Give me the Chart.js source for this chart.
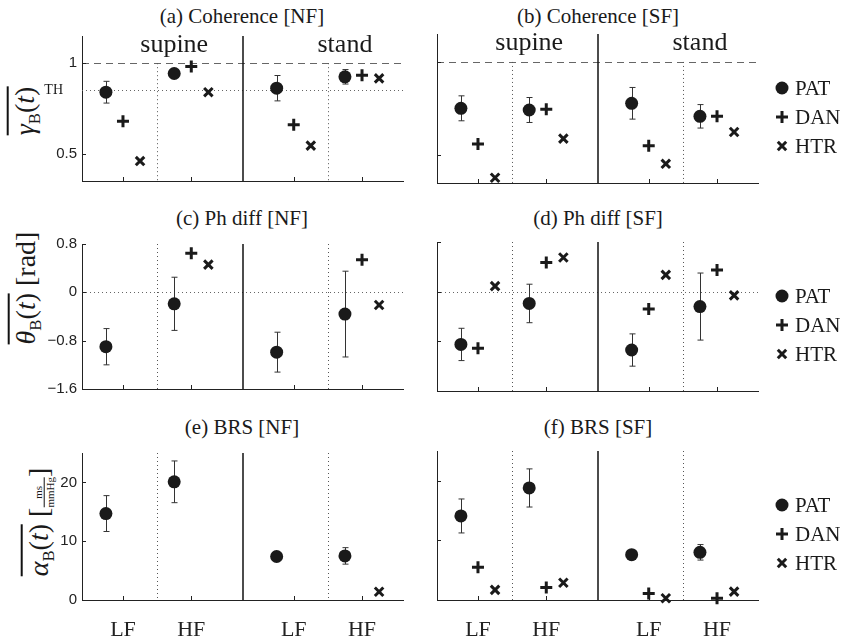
<!DOCTYPE html>
<html>
<head>
<meta charset="utf-8">
<script src="https://cdn.jsdelivr.net/npm/chart.js@4.4.1/dist/chart.umd.min.js"></script>
<style>
  body { margin: 0; background: #fff; width: 843px; height: 642px; position: relative; overflow: hidden; font-family: "Liberation Serif", "DejaVu Serif", serif; color: #1a1a1a; }
  canvas { position: absolute; }
  .title { position: absolute; font-size: 21px; line-height: 24px; transform: translateX(-50%); white-space: nowrap; }
  .ylab { position: absolute; font-size: 28px; line-height: 30px; transform: translate(-50%, -50%) rotate(-90deg); white-space: nowrap; }
  .ov { border-top: 2px solid #111; }
  .ylab sub { font-size: 60%; font-style: normal; }
  .frac { display: inline-flex; flex-direction: column; font-size: 11px; line-height: 11px; vertical-align: 6px; text-align: center; }
  .frac span:first-child { border-bottom: 1px solid #111; }
</style>
</head>
<body>
<div class="title" style="left:242px;top:4px">(a) Coherence [NF]</div>
<div class="title" style="left:598px;top:4px">(b) Coherence [SF]</div>
<div class="title" style="left:242px;top:206px">(c) Ph diff [NF]</div>
<div class="title" style="left:598px;top:206px">(d) Ph diff [SF]</div>
<div class="title" style="left:242px;top:415px">(e) BRS [NF]</div>
<div class="title" style="left:598px;top:415px">(f) BRS [SF]</div>

<div class="ylab" style="left:30px;top:111px"><span class="ov"><i>γ</i><sub>B</sub>(<i>t</i>)</span></div>
<div class="ylab" style="left:31px;top:288px"><span class="ov"><i>θ</i><sub>B</sub>(<i>t</i>)</span> [rad]</div>
<div class="ylab" style="left:44px;top:522px"><span class="ov"><i>α</i><sub>B</sub>(<i>t</i>)</span> [<span class="frac"><span>ms</span><span>mmHg</span></span>]</div>

<canvas id="pa"></canvas>
<canvas id="pb"></canvas>
<canvas id="pc"></canvas>
<canvas id="pd"></canvas>
<canvas id="pe"></canvas>
<canvas id="pf"></canvas>

<script>
// positions of the four bands on the x axis: supine LF, supine HF, stand LF, stand HF
const xPos = [1, 2, 3.5, 4.5];
const bandLabels = ['LF', 'HF', 'LF', 'HF'];
const postureLabels = ['supine', 'stand'];
const seriesNames = ['PAT', 'DAN', 'HTR'];
const seriesOffset = [-0.25, 0, 0.25];

// (a) coherence, NF
const cohNF_PAT = [0.84, 0.943, 0.862, 0.925];
const cohNF_PATerr = [0.06, 0.012, 0.07, 0.04];
const cohNF_DAN = [0.68, 0.982, 0.66, 0.934];
const cohNF_HTR = [0.46, 0.84, 0.545, 0.916];
// (b) coherence, SF
const cohSF_PAT = [0.751, 0.742, 0.778, 0.708];
const cohSF_PATerr = [0.067, 0.067, 0.085, 0.063];
const cohSF_DAN = [0.559, 0.746, 0.55, 0.708];
const cohSF_HTR = [0.378, 0.588, 0.453, 0.624];
// (c) phase difference, NF
const phNF_PAT = [-0.9, -0.19, -0.99, -0.36];
const phNF_PATerr = [0.3, 0.44, 0.33, 0.71];
const phNF_DAN = [null, 0.645, null, 0.54];
const phNF_HTR = [null, 0.458, null, -0.21];
// (d) phase difference, SF
const phSF_PAT = [-0.85, -0.19, -0.94, -0.24];
const phSF_PATerr = [0.26, 0.31, 0.26, 0.54];
const phSF_DAN = [-0.91, 0.47, -0.28, 0.35];
const phSF_HTR = [0.09, 0.55, 0.27, -0.06];
// (e) BRS, NF
const brsNF_PAT = [14.7, 20.1, 7.4, 7.5];
const brsNF_PATerr = [3.05, 3.55, 0.2, 1.4];
const brsNF_DAN = [null, null, null, null];
const brsNF_HTR = [null, null, null, 1.4];
// (f) BRS, SF
const brsSF_PAT = [14.1, 18.8, 7.6, 8.0];
const brsSF_PATerr = [2.85, 3.2, 0.2, 1.3];
const brsSF_DAN = [5.5, 2.1, 1.1, 0.3];
const brsSF_HTR = [1.7, 2.9, 0.3, 1.4];

// y axis ranges and ticks
const cohRange = [0.35, 1.15];
const cohTicks = [0.5, 1];
const cohThreshold = 0.85;
const phRange = [-1.6, 0.8];
const phTicks = [-1.6, -0.8, 0, 0.8];
const brsRange = [0, 25];
const brsTicks = [0, 10, 20];

const plotW = 321, plotH = 149;
const padL = 60, padT = 12;
const ink = '#1a1a1a';
const serif = '"Liberation Serif", "DejaVu Serif", serif';

const postureSplit = (xPos[1] + xPos[2]) / 2;
const bandSplits = [(xPos[0] + xPos[1]) / 2, (xPos[2] + xPos[3]) / 2];

function drawMarker(ctx, style, x, y) {
    ctx.save();
    ctx.fillStyle = ink;
    ctx.strokeStyle = ink;
    if (style === 'circle') {
        ctx.beginPath();
        ctx.arc(x, y, 6.5, 0, Math.PI * 2);
        ctx.fill();
    } else if (style === 'cross') {
        ctx.lineWidth = 3;
        ctx.beginPath();
        ctx.moveTo(x - 6, y); ctx.lineTo(x + 6, y);
        ctx.moveTo(x, y - 6); ctx.lineTo(x, y + 6);
        ctx.stroke();
    } else {
        ctx.lineWidth = 3;
        const r = 4.2;
        ctx.beginPath();
        ctx.moveTo(x - r, y - r); ctx.lineTo(x + r, y + r);
        ctx.moveTo(x - r, y + r); ctx.lineTo(x + r, y - r);
        ctx.stroke();
    }
    ctx.restore();
}

const markerStyles = ['circle', 'cross', 'crossRot'];

const decor = {
    id: 'decor',
    beforeDatasetsDraw(chart, args, o) {
        const { ctx, chartArea: a } = chart;
        const x = chart.scales.x, y = chart.scales.y;
        ctx.save();
        ctx.lineWidth = 1;
        // horizontal reference lines
        (o.hLines || []).forEach(h => {
            const py = Math.round(y.getPixelForValue(h.v)) + 0.5;
            ctx.strokeStyle = '#666';
            ctx.setLineDash(h.dash);
            ctx.beginPath();
            ctx.moveTo(a.left, py); ctx.lineTo(a.right, py);
            ctx.stroke();
        });
        // dotted LF/HF separators
        const yStart = o.vTop != null ? y.getPixelForValue(o.vTop) : a.top;
        ctx.setLineDash([1, 3]);
        ctx.strokeStyle = '#555';
        bandSplits.forEach(v => {
            const px = Math.round(x.getPixelForValue(v)) + 0.5;
            ctx.beginPath();
            ctx.moveTo(px, yStart); ctx.lineTo(px, a.bottom);
            ctx.stroke();
        });
        // solid supine/stand divider
        ctx.setLineDash([]);
        ctx.strokeStyle = '#111';
        ctx.lineWidth = 1.5;
        const dx = Math.round(x.getPixelForValue(postureSplit));
        ctx.beginPath();
        ctx.moveTo(dx, a.top); ctx.lineTo(dx, a.bottom);
        ctx.stroke();
        // inward ticks
        ctx.lineWidth = 1;
        ctx.strokeStyle = '#222';
        xPos.forEach(v => {
            const px = Math.round(x.getPixelForValue(v)) + 0.5;
            ctx.beginPath();
            ctx.moveTo(px, a.bottom); ctx.lineTo(px, a.bottom - 4);
            ctx.stroke();
        });
        o.yTicks.forEach(v => {
            const py = Math.round(y.getPixelForValue(v)) + 0.5;
            ctx.beginPath();
            ctx.moveTo(a.left, py); ctx.lineTo(a.left + 4, py);
            ctx.stroke();
        });
        // error bars on PAT
        ctx.strokeStyle = '#333';
        o.mean.forEach((v, i) => {
            const e = o.err[i];
            if (v === null || !e) return;
            const px = Math.round(x.getPixelForValue(xPos[i] + seriesOffset[0])) + 0.5;
            const y1 = y.getPixelForValue(v + e), y2 = y.getPixelForValue(v - e);
            ctx.beginPath();
            ctx.moveTo(px, y1); ctx.lineTo(px, y2);
            ctx.moveTo(px - 3, y1); ctx.lineTo(px + 3, y1);
            ctx.moveTo(px - 3, y2); ctx.lineTo(px + 3, y2);
            ctx.stroke();
        });
        ctx.restore();
    },
    afterDraw(chart, args, o) {
        const { ctx, chartArea: a } = chart;
        const x = chart.scales.x, y = chart.scales.y;
        ctx.save();
        ctx.fillStyle = ink;
        if (o.postures) {
            ctx.font = '26px ' + serif;
            ctx.textAlign = 'center';
            ctx.textBaseline = 'alphabetic';
            // labels sit a little right of each half's centre
            bandSplits.forEach((b, i) => ctx.fillText(postureLabels[i], x.getPixelForValue(b + 0.25), a.top + 16));
        }
        if (o.threshold != null) {
            ctx.font = '14px ' + serif;
            ctx.textAlign = 'right';
            ctx.textBaseline = 'middle';
            ctx.fillText('TH', a.left - 19, y.getPixelForValue(o.threshold));
        }
        if (o.legend) {
            ctx.font = '21px ' + serif;
            ctx.textAlign = 'left';
            ctx.textBaseline = 'middle';
            seriesNames.forEach((n, k) => {
                const ly = a.top + 54 + k * 29;
                drawMarker(ctx, markerStyles[k], a.right + 24, ly);
                ctx.fillText(n, a.right + 37, ly + 1);
            });
        }
        ctx.restore();
    }
};

function makePanel(id, left, top, cfg) {
    const padR = cfg.legend ? 100 : 12;
    const xh = cfg.bottomLabels ? 44 : 0;
    const padB = cfg.bottomLabels ? 0 : 12;
    const canvas = document.getElementById(id);
    canvas.width = padL + plotW + padR;
    canvas.height = padT + plotH + xh + padB;
    canvas.style.left = (left - padL) + 'px';
    canvas.style.top = (top - padT) + 'px';

    const series = [cfg.PAT, cfg.DAN, cfg.HTR];
    const datasets = series.map((vals, k) => ({
        label: seriesNames[k],
        data: vals.map((v, i) => v === null ? null : { x: xPos[i] + seriesOffset[k], y: v }).filter(d => d),
        pointStyle: markerStyles[k],
        pointRadius: k === 0 ? 6.5 : 6,
        borderWidth: k === 0 ? 0 : 3,
        backgroundColor: ink,
        borderColor: ink,
        showLine: false,
        clip: false
    }));

    return new Chart(canvas, {
        type: 'scatter',
        data: { datasets },
        options: {
            responsive: false,
            animation: false,
            events: [],
            layout: { padding: { top: padT, right: padR, bottom: padB, left: 0 } },
            plugins: {
                legend: { display: false },
                tooltip: { enabled: false },
                decor: {
                    hLines: cfg.hLines,
                    vTop: cfg.vTop,
                    yTicks: cfg.yTicks,
                    mean: cfg.PAT,
                    err: cfg.err,
                    postures: cfg.postures,
                    threshold: cfg.threshold,
                    legend: cfg.legend
                }
            },
            scales: {
                x: {
                    type: 'linear',
                    min: 0.4,
                    max: 5.1,
                    afterFit: s => { s.height = xh; },
                    afterBuildTicks: s => { s.ticks = xPos.map(v => ({ value: v })); },
                    ticks: {
                        display: !!cfg.bottomLabels,
                        autoSkip: false,
                        maxRotation: 0,
                        padding: 17,
                        color: '#222',
                        font: { family: serif, size: 22 },
                        callback: (v, i) => bandLabels[i]
                    },
                    grid: { display: false, drawTicks: false },
                    border: { display: true, color: '#222', width: 1 }
                },
                y: {
                    min: cfg.range[0],
                    max: cfg.range[1],
                    afterFit: s => { s.width = padL; },
                    afterBuildTicks: s => { s.ticks = cfg.yTicks.map(v => ({ value: v })); },
                    ticks: {
                        display: !!cfg.yLabels,
                        padding: 5,
                        color: '#222',
                        font: { family: 'Liberation Sans', size: 15 },
                        callback: v => String(v).replace('-', '\u2212')
                    },
                    grid: { display: false, drawTicks: false },
                    border: { display: true, color: '#222', width: 1 }
                }
            }
        },
        plugins: [decor]
    });
}

const leftX = 82, rightX = 437;
const rowY = [34, 242, 451];

const cohLines = [{ v: 1, dash: [7, 5] }];
makePanel('pa', leftX, rowY[0], { PAT: cohNF_PAT, err: cohNF_PATerr, DAN: cohNF_DAN, HTR: cohNF_HTR, range: cohRange, yTicks: cohTicks,
    hLines: cohLines.concat([{ v: cohThreshold, dash: [1, 3] }]), vTop: 1, postures: true, threshold: cohThreshold, yLabels: true });
makePanel('pb', rightX, rowY[0], { PAT: cohSF_PAT, err: cohSF_PATerr, DAN: cohSF_DAN, HTR: cohSF_HTR, range: cohRange, yTicks: cohTicks,
    hLines: cohLines, vTop: 1, postures: true, legend: true });
makePanel('pc', leftX, rowY[1], { PAT: phNF_PAT, err: phNF_PATerr, DAN: phNF_DAN, HTR: phNF_HTR, range: phRange, yTicks: phTicks,
    hLines: [{ v: 0, dash: [1, 3] }], yLabels: true });
makePanel('pd', rightX, rowY[1], { PAT: phSF_PAT, err: phSF_PATerr, DAN: phSF_DAN, HTR: phSF_HTR, range: phRange, yTicks: phTicks,
    hLines: [{ v: 0, dash: [1, 3] }], legend: true });
makePanel('pe', leftX, rowY[2], { PAT: brsNF_PAT, err: brsNF_PATerr, DAN: brsNF_DAN, HTR: brsNF_HTR, range: brsRange, yTicks: brsTicks,
    hLines: [], yLabels: true, bottomLabels: true });
makePanel('pf', rightX, rowY[2], { PAT: brsSF_PAT, err: brsSF_PATerr, DAN: brsSF_DAN, HTR: brsSF_HTR, range: brsRange, yTicks: brsTicks,
    hLines: [], legend: true, bottomLabels: true });
</script>
</body>
</html>
